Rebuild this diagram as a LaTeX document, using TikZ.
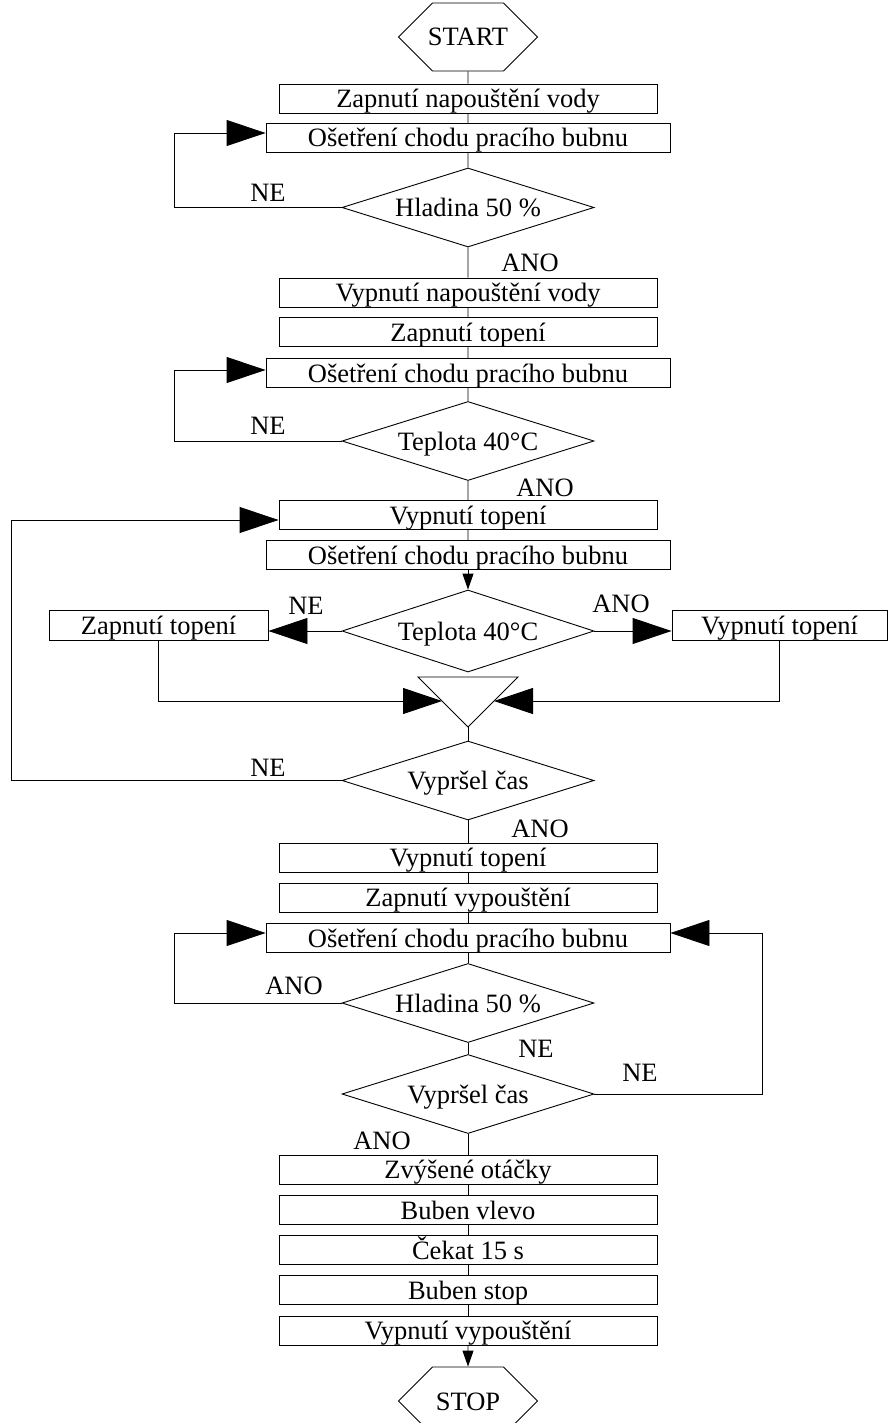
\documentclass[tikz,border=0pt]{standalone}
\usepackage{fontspec}
\setmainfont{Liberation Serif}
\usetikzlibrary{shapes.geometric,shapes.misc,arrows.meta,calc}

\begin{document}
\begin{tikzpicture}[x=1pt,y=-1pt,line width=0.9pt,
    every node/.style={font=\fontsize{26.5}{30}\selectfont,inner sep=0pt,
      text height=18pt,text depth=0pt},
    krok/.style={draw,rectangle,minimum width=378pt,minimum height=29pt},
    krokw/.style={krok,minimum width=404pt},
    podm/.style={draw,diamond,aspect=3.2,minimum width=252pt,minimum height=79pt},
    mez/.style={draw,chamfered rectangle,chamfered rectangle xsep=28pt,
      chamfered rectangle ysep=25pt,minimum width=139pt,minimum height=50pt},
    velka/.style={-{Triangle[length=39pt,width=26pt]}},
    mala/.style={-{Triangle[length=16pt,width=11pt]}}]
    \useasboundingbox[fill=white](0,0) rectangle (889,1423);
    % hlavni sloupec
    \node[mez] (start) at (468,37) {START};
    \node[krok] (b1) at (468,98.5) {Zapnutí napouštění vody};
    \node[krokw] (os1) at (468,138) {Ošetření chodu pracího bubnu};
    \node[podm] (hl1) at (468,207.5) {Hladina 50 \%};
    \node[krok] (b2) at (468,292.5) {Vypnutí napouštění vody};
    \node[krok] (b3) at (468,332) {Zapnutí topení};
    \node[krokw] (os2) at (468,373) {Ošetření chodu pracího bubnu};
    \node[podm] (te1) at (468,441) {Teplota 40°C};
    \node[krok] (vt1) at (468,515) {Vypnutí topení};
    \node[krokw] (os3) at (468,555) {Ošetření chodu pracího bubnu};
    \node[podm,minimum height=82pt] (te2) at (468,631) {Teplota 40°C};
    \node[draw,minimum width=219pt,minimum height=30pt] (zt) at (158.5,625.5) {Zapnutí topení};
    \node[draw,minimum width=215pt,minimum height=30pt] (vt2) at (779.5,625) {Vypnutí topení};
    \node[podm] (vc1) at (468,780.5) {Vypršel čas};
    \node[krok] (b4) at (468,857.5) {Vypnutí topení};
    \node[krok] (b5) at (468,897.5) {Zapnutí vypouštění};
    \node[krokw] (os4) at (468,938) {Ošetření chodu pracího bubnu};
    \node[podm] (hl2) at (468,1003) {Hladina 50 \%};
    \node[podm] (vc2) at (468,1094) {Vypršel čas};
    \node[krok] (b6) at (468,1169.5) {Zvýšené otáčky};
    \node[krok] (b7) at (468,1210) {Buben vlevo};
    \node[krok] (b8) at (468,1250) {Čekat 15 s};
    \node[krok] (b9) at (468,1290) {Buben stop};
    \node[krok] (b10) at (468,1330.5) {Vypnutí vypouštění};
    \node[mez] (stop) at (468,1401) {STOP};
    % soutok
    \coordinate (mtl) at (418,677);
    \coordinate (mtr) at (518,677);
    \coordinate (mtb) at (468,727);
    \draw (mtl) -- (mtr) -- (mtb) -- cycle;
    \coordinate (mvl) at ($(mtl)!0.48!(mtb)$);
    \coordinate (mvr) at ($(mtr)!0.48!(mtb)$);
    % spoje
    \draw (start) -- (b1) -- (os1) -- (hl1) -- (b2) -- (b3) -- (os2) -- (te1) -- (vt1) -- (os3);
    \draw[mala] (os3) -- (te2);
    \draw[velka] (te2.west) -- (te2.west -| zt.east);
    \draw[velka] (te2.east) -- (te2.east -| vt2.west);
    \draw[velka] (zt.south) |- (mvl);
    \draw[velka] (vt2.south) |- (mvr);
    \draw (mtb) -- (vc1);
    \draw (vc1) -- (b4) -- (b5) -- (os4) -- (hl2) -- (vc2) -- (b6) -- (b7) -- (b8) -- (b9) -- (b10);
    \draw[mala] (b10) -- (stop);
    \draw[velka] (hl1.west) -- ++(-167,0) |- ([yshift=5pt]os1.west);
    \draw[velka] (te1.west) -- ++(-167,0) |- ([yshift=3pt]os2.west);
    \draw[velka] (vc1.west) -- ++(-330,0) |- ([yshift=-5pt]vt1.west);
    \draw[velka] (hl2.west) -- ++(-167,0) |- ([yshift=5pt]os4.west);
    \draw[velka] (vc2.east) -- ++(168,0) |- ([yshift=5pt]os4.east);
    % popisky
    \node (ne1) at (268,193) {NE};
    \node (ano1) at (530,263) {ANO};
    \node (ne2) at (268,425) {NE};
    \node (ano2) at (545,487) {ANO};
    \node (ne3) at (306,605) {NE};
    \node (ano3) at (621,603) {ANO};
    \node (ne4) at (268,767) {NE};
    \node (ano4) at (540,828) {ANO};
    \node (ano5) at (294,985) {ANO};
    \node (ne5) at (536,1048) {NE};
    \node (ne6) at (640,1072) {NE};
    \node (ano6) at (382,1140) {ANO};
  \end{tikzpicture}
\end{document}
